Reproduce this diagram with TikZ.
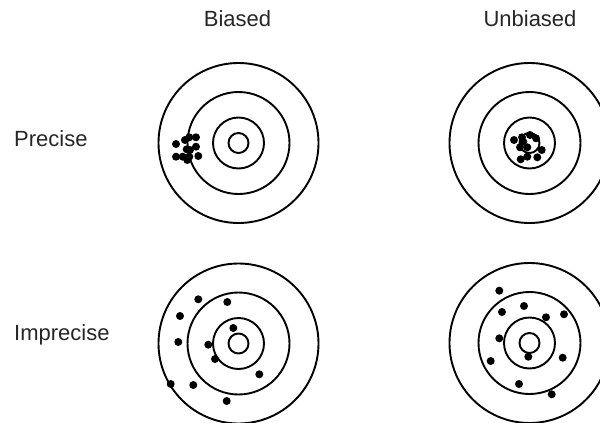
\documentclass[tikz,border=0pt]{standalone}
\usepackage{fontspec}
\setmainfont{Liberation Sans}
\begin{document}
\begin{tikzpicture}[x=1pt,y=-1pt,
  ring/.style={draw=black,line width=1.9pt,circle,inner sep=0pt,minimum size=#1},
  shot/.style={fill=black,circle,inner sep=0pt,minimum size=8pt},
  lab/.style={font=\fontsize{22}{26}\selectfont,text=black!85,inner sep=0pt}]
\useasboundingbox (0,0) rectangle (600,423);
% labels
\node[lab,anchor=base] (hb) at (237.5,26.7) {Biased};
\node[lab,anchor=base] (hu) at (530,26.7) {Unbiased};
\node[lab,anchor=base west] (rp) at (14,146.7) {Precise};
\node[lab,anchor=base west] (ri) at (14,340.7) {Imprecise};
% targets
\foreach \n/\cx/\cy in {A/238.5/143, B/529.5/143, C/238.5/343.5, D/529.5/343}{
  \node[ring=160pt] (\n o) at (\cx,\cy) {};
  \node[ring=102pt] (\n s) at (\cx,\cy) {};
  \node[ring=51pt]  (\n t) at (\cx,\cy) {};
  \node[ring=20pt]  (\n i) at (\cx,\cy) {};
}
% Biased precise
\foreach \x/\y [count=\k] in {176/144,185/140,189.3/137.3,196/137.3,196/146.7,186.7/149.3,176/156.7,182.7/156.7,189.3/156.7,198.3/156,187.3/160,190/150}
  \node[shot] (a\k) at (\x,\y) {};
% Unbiased precise
\foreach \x/\y [count=\k] in {514/140,522/137.3,530/135,536/138.3,520/147.3,527.3/147.3,541.7/150,537.3/157.3,527.3/156.7,520.7/159.3,523.3/141.7}
  \node[shot] (b\k) at (\x,\y) {};
% Biased imprecise
\foreach \x/\y [count=\k] in {198.3/299.3,227.3/302,180/316,233.3/328,178.3/342,208.3/344.7,215/359,259.3/374.3,170.7/384,193.3/385,226.7/401}
  \node[shot] (c\k) at (\x,\y) {};
% Unbiased imprecise
\foreach \x/\y [count=\k] in {499.3/290.7,524/306,502/312,564/314.3,546/317.3,499.3/338.3,528.3/356.7,490.7/361,562.7/357.7,519/384,551.7/394.3}
  \node[shot] (d\k) at (\x,\y) {};
\end{tikzpicture}
\end{document}
